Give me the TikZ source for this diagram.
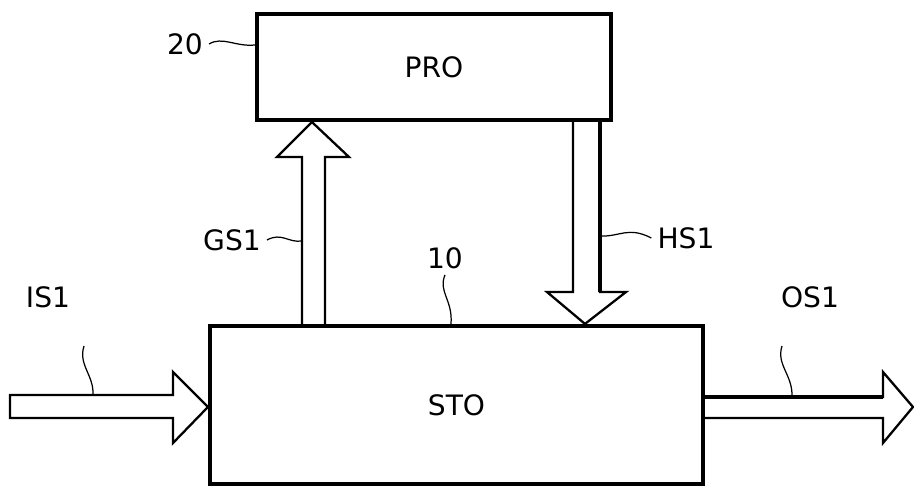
\documentclass[tikz,border=0pt]{standalone}
\usepackage{fontspec}
\setmainfont{DejaVu Sans}
\usetikzlibrary{positioning}
\usetikzlibrary{calc}

\begin{document}
\begin{tikzpicture}[x=0.02cm, y=-0.02cm, every node/.style={font=\fontsize{16}{18}\selectfont}]
    \useasboundingbox (0,0) rectangle (914,487);
    \tikzset{
        blockbox/.style={draw, line width=2.4pt, inner sep=0pt},
        fatarrow/.style={draw, line width=1.3pt, line join=miter, fill=white},
        leader/.style={draw, line width=0.7pt},
    }
    % blocks
    \node[blockbox, minimum width=7.08cm, minimum height=2.12cm] (pro) at (434,67) {PRO};
    \node[blockbox, minimum width=9.86cm, minimum height=3.16cm] (sto) at (456.5,405) {STO};

    % reference numerals and signal names
    \node (n20) at (185,44) {20};
    \node (n10) at (445,258) {10};
    \node (gs1) at (232,240) {GS1};
    \node (hs1) at (686,238) {HS1};
    \node (is1) at (48,297) {IS1};
    \node (os1) at (810,297) {OS1};
    \coordinate (is1end) at (84,346);

    % wide signal arrows
    \path[fatarrow] (302,0 |- sto.north) -- (302,157) -- (277,157) -- (312,0 |- pro.south)
        -- (349,157) -- (325,157) -- (325,0 |- sto.north);
    \path[fatarrow] (573,0 |- pro.south) -- (573,292) -- (547,292) -- (585,0 |- sto.north)
        -- (626,292) -- (600,292) -- (600,0 |- pro.south);
    \draw[line width=2.2pt] (600,0 |- pro.south) -- (600,292);
    \path[fatarrow] (10,395) -- (173,395) -- (173,372) -- (sto.west |- 0,407)
        -- (173,443) -- (173,418) -- (10,418) -- cycle;
    \path[fatarrow] (sto.east |- 0,397) -- (883,397) -- (883,372) -- (913,407)
        -- (883,443) -- (883,418) -- (sto.east |- 0,418);
    \draw[line width=2pt] (sto.east |- 0,397) -- (883,397);

    % leader lines
    \path[leader] (n20.east) .. controls (222,36) and (236,47) .. (pro.west |- 0,45);
    \path[leader] (n10.south) .. controls (438,292) and (453,300) .. (451,0 |- sto.north);
    \path[leader] (gs1.east) .. controls (282,232) and (288,243) .. (302,241);
    \path[leader] (600,236) .. controls (620,237) and (628,226) .. (hs1.west);
    \path[leader] (is1end) .. controls (78,365) and (94,375) .. (93,395);
    \path[leader] (782,346) .. controls (776,365) and (793,375) .. (792,397);
\end{tikzpicture}
\end{document}
